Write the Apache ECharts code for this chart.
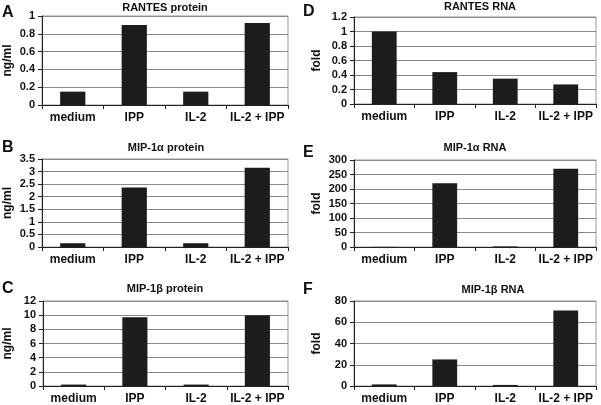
<!DOCTYPE html>
<html><head><meta charset="utf-8">
<script src="https://cdn.jsdelivr.net/npm/echarts@6/dist/echarts.min.js"></script>
<style>html,body{margin:0;padding:0;background:#fff}#c{width:601px;height:405px}</style>
</head><body><div id="c"></div>
<script>
const categories = ['medium', 'IPP', 'IL-2', 'IL-2 + IPP'];
const rantesProtein = [0.15, 0.90, 0.15, 0.92];
const rantesRNA = [1.0, 0.44, 0.35, 0.27];
const mip1aProtein = [0.15, 2.37, 0.15, 3.15];
const mip1aRNA = [0.5, 220, 2, 270];
const mip1bProtein = [0.2, 9.7, 0.2, 10.0];
const mip1bRNA = [1.5, 25, 1, 71];

const panels = [
  {letter:'A', title:'RANTES protein', unit:'ng/ml', data:rantesProtein, max:1, interval:0.2,
   grid:{left:42, top:16, width:246, height:89}, tx:165, ty:8, lx:2, ly:5, gap:28},
  {letter:'D', title:'RANTES RNA', unit:'fold', data:rantesRNA, max:1.2, interval:0.2,
   grid:{left:354, top:17, width:242, height:87}, tx:480, ty:7, lx:303, ly:4, gap:31},
  {letter:'B', title:'MIP-1\u03b1 protein', unit:'ng/ml', data:mip1aProtein, max:3.5, interval:0.5,
   grid:{left:42, top:159, width:246, height:88}, tx:166, ty:148, lx:2, ly:140, gap:28},
  {letter:'E', title:'MIP-1\u03b1 RNA', unit:'fold', data:mip1aRNA, max:300, interval:50,
   grid:{left:354, top:160, width:242, height:87}, tx:475, ty:148, lx:303, ly:145, gap:31},
  {letter:'C', title:'MIP-1\u03b2 protein', unit:'ng/ml', data:mip1bProtein, max:12, interval:2,
   grid:{left:43, top:301, width:245, height:88}, tx:165, ty:289, lx:2, ly:281, gap:29},
  {letter:'F', title:'MIP-1\u03b2 RNA', unit:'fold', data:mip1bRNA, max:80, interval:20,
   grid:{left:354, top:301, width:242, height:88}, tx:493, ty:290, lx:303, ly:282, gap:31}
];

const FONT = 'Liberation Sans, Arial, sans-serif';
const option = {
  animation:false,
  backgroundColor:'#fff',
  grid: panels.map(p => Object.assign({show:true, borderColor:'#999', borderWidth:1, backgroundColor:'transparent'}, p.grid)),
  xAxis: panels.map((p,i) => ({
    type:'category', gridIndex:i, data:categories,
    axisLine:{lineStyle:{color:'#222', width:1}},
    axisTick:{show:true, length:4, lineStyle:{color:'#222'}},
    axisLabel:{color:'#111', fontFamily:FONT, fontWeight:'bold', fontSize:12, margin:7, interval:0}
  })),
  yAxis: panels.map((p,i) => ({
    type:'value', gridIndex:i, min:0, max:p.max, interval:p.interval,
    name:p.unit, nameLocation:'middle', nameRotate:90, nameGap:p.gap,
    nameTextStyle:{color:'#111', fontFamily:FONT, fontWeight:'bold', fontSize:12},
    axisLine:{show:true, lineStyle:{color:'#222', width:1}},
    axisTick:{show:true, length:4, lineStyle:{color:'#222'}},
    axisLabel:{color:'#111', fontFamily:FONT, fontWeight:'bold', fontSize:11, margin:7},
    splitLine:{show:true, lineStyle:{color:'#8a8a8a', width:1}}
  })),
  series: panels.map((p,i) => ({
    type:'bar', xAxisIndex:i, yAxisIndex:i, data:p.data, barWidth:'41%',
    itemStyle:{color:'#1c1c1c'}
  })),
  graphic: panels.flatMap(p => [
    {type:'text', x:p.tx, y:p.ty, style:{text:p.title, fill:'#111', font:'bold 11px '+FONT, textAlign:'center', textVerticalAlign:'middle'}},
    {type:'text', x:p.lx, y:p.ly, style:{text:p.letter, fill:'#111', font:'bold 16px '+FONT}}
  ])
};
const chart = echarts.init(document.getElementById('c'), null, {renderer:'canvas'});
chart.setOption(option);
</script></body></html>
